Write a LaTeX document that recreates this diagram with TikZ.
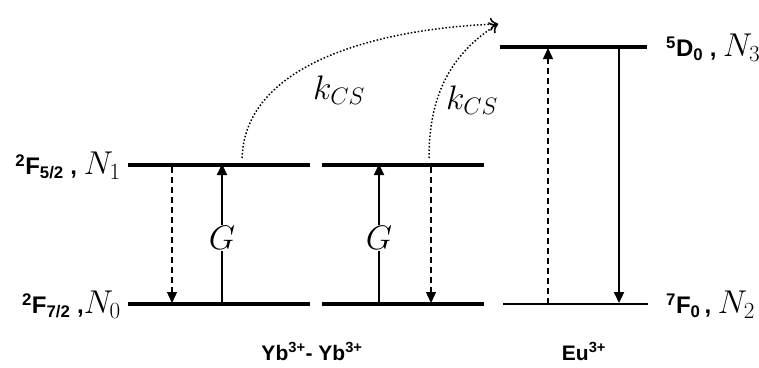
\RequirePackage{fix-cm}
\documentclass[tikz,border=0pt]{standalone}
\usepackage{fontspec}
\setmainfont{Liberation Sans}
\usepackage{tikz}
\usetikzlibrary{arrows.meta, positioning, calc}

\begin{document}
\begin{tikzpicture}[x=1pt, y=-1pt,
    level/.style={line width=3.4pt},
    thinlevel/.style={line width=2.6pt},
    trans/.style={line width=2.2pt, -{Triangle[length=11pt, width=10pt]}},
    relax/.style={line width=1.3pt, dashed, dash pattern=on 6pt off 4pt, -{Triangle[length=11pt, width=10pt]}},
    transfer/.style={line width=1.5pt, dotted, -{To[length=8pt, width=13pt]}},
    term/.style={font=\fontsize{24}{28}\selectfont\bfseries, inner sep=0pt},
    ion/.style={font=\fontsize{21}{25}\selectfont\bfseries, inner sep=0pt},
    rate/.style={font=\fontsize{34}{38}\selectfont, inner sep=1pt},
  ]
  \useasboundingbox (0,0) rectangle (759,367);

  % energy levels
  \coordinate (yb1w) at (128,165);  \coordinate (yb1e) at (310,165);
  \coordinate (yb0w) at (128,304);  \coordinate (yb0e) at (310,304);
  \coordinate (yc1w) at (322,165);  \coordinate (yc1e) at (484,165);
  \coordinate (yc0w) at (322,304);  \coordinate (yc0e) at (484,304);
  \coordinate (eu3w) at (500,47);   \coordinate (eu3e) at (647,47);
  \coordinate (eu2w) at (503,304);  \coordinate (eu2e) at (648,304);
  \draw[level] (yb1w) -- (yb1e);
  \draw[level] (yb0w) -- (yb0e);
  \draw[level] (yc1w) -- (yc1e);
  \draw[level] (yc0w) -- (yc0e);
  \draw[level] (eu3w) -- (eu3e);
  \draw[thinlevel] (eu2w) -- (eu2e);

  % level labels
  \node[term, anchor=east] (f52) at (121,166) {\textsuperscript{2}F\textsubscript{5/2} , {\fontsize{33}{36}\selectfont\mdseries$N_1$}};
  \node[term, anchor=east] (f72) at (121,305) {\textsuperscript{2}F\textsubscript{7/2} ,{\fontsize{33}{36}\selectfont\mdseries$N_0$}};
  \node[term, anchor=west] (d0) at (666,48) {\textsuperscript{5}D\textsubscript{0} , {\fontsize{33}{36}\selectfont\mdseries$N_3$}};
  \node[term, anchor=west] (f0) at (666,305) {\textsuperscript{7}F\textsubscript{0}\,, {\fontsize{33}{36}\selectfont\mdseries$N_2$}};

  % ions
  \node[ion, anchor=base] (ybyb) at (312,360) {Yb\textsuperscript{3+}- Yb\textsuperscript{3+}};
  \node[ion, anchor=base] (eu) at (584,360) {Eu\textsuperscript{3+}};

  % pumping and relaxation
  \coordinate (a1t) at (172,167); \coordinate (a1b) at (172,303);
  \coordinate (g1b) at (222,304); \coordinate (g1t) at (222,164);
  \coordinate (g2b) at (379,304); \coordinate (g2t) at (379,164);
  \coordinate (a2t) at (431,167); \coordinate (a2b) at (431,303);
  \coordinate (e1b) at (548,304); \coordinate (e1t) at (548,48);
  \coordinate (e2t) at (619,48);  \coordinate (e2b) at (619,303);
  \draw[relax] (a1t) -- (a1b);
  \draw[trans] (g1b) -- (g1t);
  \draw[trans] (g2b) -- (g2t);
  \draw[relax] (a2t) -- (a2b);
  \draw[relax] (e1b) -- (e1t);
  \draw[trans] (e2t) -- (e2b);
  \node[rate, fill=white] (g1) at (222,238) {$G$};
  \node[rate, fill=white] (g2) at (379,238) {$G$};

  % cooperative transfer
  \coordinate (c1s) at (242,158); \coordinate (c2s) at (429,158);
  \coordinate (ct) at (498,24);
  \draw[transfer] (c1s) to[out=88, in=182, looseness=0.9] (ct);
  \draw[transfer] (c2s) to[out=90, in=212] (ct);
  \node[rate] (k1) at (339,90) {$k_{CS}$};
  \node[rate] (k2) at (472,100) {$k_{CS}$};
\end{tikzpicture}
\end{document}
